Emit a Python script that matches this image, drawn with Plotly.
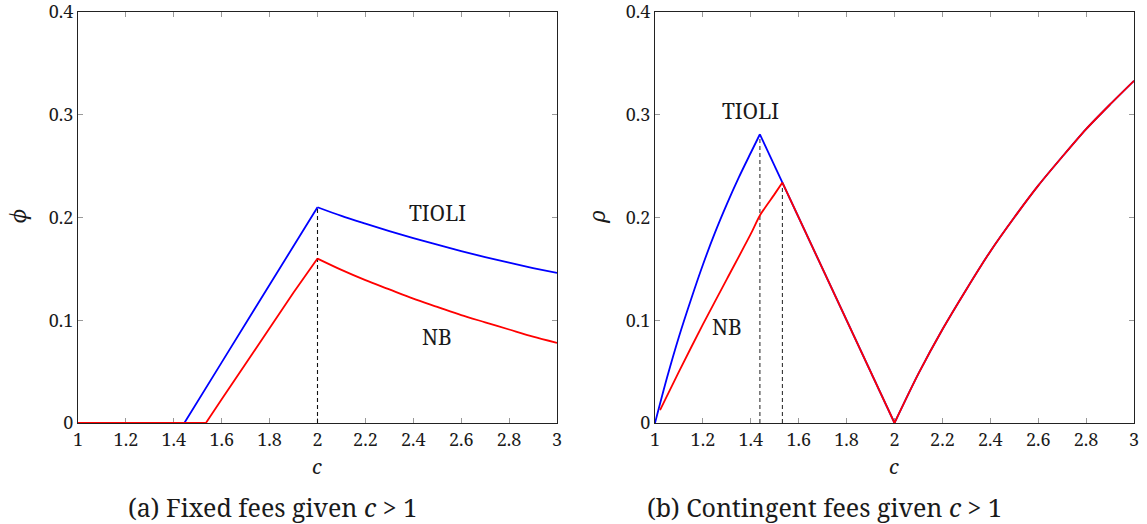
import plotly.graph_objects as go

W, H = 1147, 524

# ---------- Panel (a): fixed fees ----------
c_a_tioli = [1.0, 1.444, 1.6, 1.8, 2.0, 2.1, 2.2, 2.3, 2.4, 2.5, 2.6, 2.7, 2.8, 2.9, 3.0]
phi_tioli = [0.0, 0.0, 0.059, 0.134, 0.210, 0.2015, 0.194, 0.1868, 0.180, 0.1735, 0.1673, 0.1615, 0.156, 0.1508, 0.146]

c_a_nb = [1.0, 1.534, 1.6, 1.7, 1.8, 1.9, 2.0, 2.1, 2.2, 2.3, 2.4, 2.5, 2.6, 2.7, 2.8, 2.9, 3.0]
phi_nb = [0.0, 0.0, 0.023, 0.058, 0.093, 0.127, 0.160, 0.149, 0.139, 0.130, 0.121, 0.113, 0.105, 0.098, 0.091, 0.084, 0.078]

dash_a_x = [2.0, 2.0]
dash_a_y = [0.0, 0.210]

# ---------- Panel (b): contingent fees ----------
c_b_tioli = [1.0, 1.05, 1.1, 1.15, 1.2, 1.25, 1.3, 1.35, 1.4, 1.438, 1.532, 2.0,
             2.1, 2.2, 2.3, 2.4, 2.5, 2.6, 2.7, 2.8, 2.9, 3.0]
rho_tioli = [0.0, 0.044, 0.084, 0.120, 0.154, 0.185, 0.213, 0.239, 0.263, 0.281, 0.234, 0.0,
             0.048, 0.091, 0.130, 0.167, 0.200, 0.231, 0.259, 0.286, 0.310, 0.333]

c_b_nb = [1.021, 1.1, 1.2, 1.3, 1.4, 1.438, 1.5, 1.532, 2.0,
          2.1, 2.2, 2.3, 2.4, 2.5, 2.6, 2.7, 2.8, 2.9, 3.0]
rho_nb = [0.0126, 0.050, 0.096, 0.140, 0.184, 0.202, 0.223, 0.234, 0.0,
          0.048, 0.091, 0.130, 0.167, 0.200, 0.231, 0.259, 0.286, 0.310, 0.333]

dash_b1_x = [1.438, 1.438]
dash_b1_y = [0.0, 0.281]
dash_b2_x = [1.532, 1.532]
dash_b2_y = [0.0, 0.234]

x_ticks = [1, 1.2, 1.4, 1.6, 1.8, 2, 2.2, 2.4, 2.6, 2.8, 3]
x_tick_text = ["1", "1.2", "1.4", "1.6", "1.8", "2", "2.2", "2.4", "2.6", "2.8", "3"]
y_ticks = [0, 0.1, 0.2, 0.3, 0.4]
y_tick_text = ["0", "0.1", "0.2", "0.3", "0.4"]

FONT = "Noto Serif, DejaVu Serif, serif"
BLUE = "#0000ff"
RED = "#ff0000"
TXT = "#1a1a1a"

fig = go.Figure()

def line(x, y, xa, ya, color, width=1.8, dash=None, shape="linear"):
    fig.add_trace(go.Scatter(
        x=x, y=y, xaxis=xa, yaxis=ya, mode="lines",
        line=dict(color=color, width=width, dash=dash, shape=shape, smoothing=0.8),
        cliponaxis=False, showlegend=False, hoverinfo="skip"))

def split_at(xs, ys, x0):
    i = xs.index(x0)
    return (xs[:i + 1], ys[:i + 1]), (xs[i:], ys[i:])

# panel a
line(dash_a_x, dash_a_y, "x", "y", "#111111", 1.1, "4px,3px")
(lx, ly), (rx, ry) = split_at(c_a_tioli, phi_tioli, 2.0)
line(lx, ly, "x", "y", BLUE)
line(rx, ry, "x", "y", BLUE, shape="spline")
(lx, ly), (rx, ry) = split_at(c_a_nb, phi_nb, 2.0)
line(lx, ly, "x", "y", RED)
line(rx, ry, "x", "y", RED, shape="spline")

# panel b
line(dash_b1_x, dash_b1_y, "x2", "y2", "#333333", 1.1, "4px,3px")
line(dash_b2_x, dash_b2_y, "x2", "y2", "#333333", 1.1, "4px,3px")
i1, i2 = c_b_tioli.index(1.438), c_b_tioli.index(2.0)
line(c_b_tioli[:i1 + 1], rho_tioli[:i1 + 1], "x2", "y2", BLUE, shape="spline")
line(c_b_tioli[i1:i2 + 1], rho_tioli[i1:i2 + 1], "x2", "y2", BLUE)
line(c_b_tioli[i2:], rho_tioli[i2:], "x2", "y2", BLUE, shape="spline")
j1, j2 = c_b_nb.index(1.532), c_b_nb.index(2.0)
line(c_b_nb[:j1 + 1], rho_nb[:j1 + 1], "x2", "y2", RED, shape="spline")
line(c_b_nb[j1:j2 + 1], rho_nb[j1:j2 + 1], "x2", "y2", RED)
line(c_b_nb[j2:], rho_nb[j2:], "x2", "y2", RED, shape="spline")

def px_x(p):
    return p / W

def px_y(p):
    return 1 - p / H

y_dom = [px_y(423), px_y(12)]

common = dict(
    ticks="inside", ticklen=5, tickcolor="#9a9a9a", tickwidth=1,
    showline=True, linecolor="#222222", linewidth=1, mirror="ticks",
    showgrid=False, zeroline=False, layer="below traces", automargin=False,
    ticklabeloverflow="allow",
    tickfont=dict(family=FONT, size=18, color=TXT),
)

fig.update_layout(
    width=W, height=H, autosize=False,
    margin=dict(l=0, r=0, t=0, b=0, pad=0),
    paper_bgcolor="white", plot_bgcolor="white",
    font=dict(family=FONT, color=TXT),
    xaxis=dict(domain=[px_x(78), px_x(557)], range=[1, 3], tickvals=x_ticks, ticktext=x_tick_text,
               anchor="y", **common),
    yaxis=dict(domain=y_dom, range=[0, 0.4], tickvals=y_ticks, ticktext=y_tick_text,
               anchor="x", **common),
    xaxis2=dict(domain=[px_x(655), px_x(1134)], range=[1, 3], tickvals=x_ticks, ticktext=x_tick_text,
                anchor="y2", **common),
    yaxis2=dict(domain=y_dom, range=[0, 0.4], tickvals=y_ticks, ticktext=y_tick_text,
                anchor="x2", **common),
)

def ann(text, x, y, size, xref="paper", yref="paper", angle=0):
    fig.add_annotation(text=text, x=x, y=y, xref=xref, yref=yref, showarrow=False,
                       xanchor="center", yanchor="middle", textangle=angle,
                       font=dict(family=FONT, size=size, color=TXT))

# curve labels (data coords)
ann("TIOLI", 2.5, 0.204, 21, "x", "y")
ann("NB", 2.5, 0.084, 21, "x", "y")
ann("TIOLI", 1.40, 0.304, 21, "x2", "y2")
ann("NB", 1.30, 0.0935, 21, "x2", "y2")

# axis titles
ann("<i>c</i>", px_x(317), px_y(466), 20)
ann("<i>c</i>", px_x(894), px_y(466), 20)
ann("<i>ϕ</i>", px_x(18), px_y(216), 21, angle=-90)
ann("<i>ρ</i>", px_x(597), px_y(217), 21, angle=-90)

# captions
ann("(a) Fixed fees given <i>c</i> &gt; 1", px_x(272), px_y(507), 25)
ann("(b) Contingent fees given <i>c</i> &gt; 1", px_x(824), px_y(507), 25)

fig.write_html("out.html")
